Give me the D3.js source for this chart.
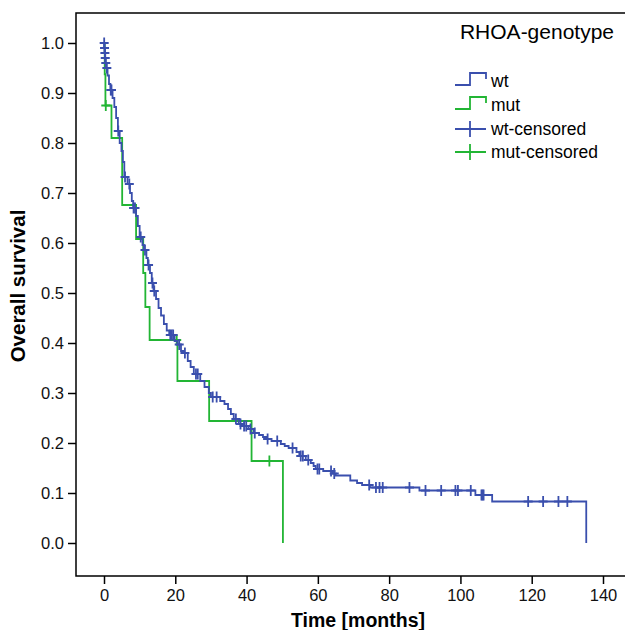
<!DOCTYPE html>
<html>
<head>
<meta charset="UTF-8">
<script src="https://cdn.jsdelivr.net/npm/d3@7"></script>
<style>
  body { margin: 0; background: #fff; }
  text { font-family: "Liberation Sans", Arial, sans-serif; }
</style>
</head>
<body>
<div id="chart"></div>
<script>
// survival steps: time of drop (months) and survival after the drop
const wtTimes = [0.1, 0.2, 0.3, 0.4, 0.6, 1.0, 1.4, 1.8, 2.4, 2.9, 3.4, 3.9, 4.4, 4.9, 5.3, 5.7, 6.6, 7.3, 7.8, 8.2,
  9.0, 9.5, 10.0, 10.8, 11.2, 11.9, 12.3, 12.9, 13.4, 13.9, 14.6, 15.3, 16.0, 16.8, 17.6, 18.3, 19.8, 20.6, 21.6, 22.2,
  23.5, 24.3, 25.2, 27.0, 28.2, 29.4, 30.0, 32.6, 33.8, 34.8, 35.6, 36.4, 37.8, 39.0, 40.5, 42.0, 43.5, 44.6, 45.5, 47.0,
  49.6, 50.7, 51.8, 54.0, 54.8, 56.6, 58.0, 58.8, 59.4, 61.5, 64.2, 65.0, 69.1, 71.0, 72.4, 74.6, 88.5, 104.2, 108.9, 135.3]
const wtSurv = [0.99, 0.98, 0.97, 0.96, 0.95, 0.935, 0.918, 0.906, 0.89, 0.872, 0.85, 0.824, 0.80, 0.784, 0.762, 0.732, 0.718, 0.70, 0.684, 0.67,
  0.654, 0.634, 0.612, 0.596, 0.586, 0.57, 0.556, 0.54, 0.52, 0.504, 0.488, 0.47, 0.455, 0.438, 0.425, 0.416, 0.404, 0.397, 0.384, 0.38,
  0.364, 0.352, 0.338, 0.324, 0.312, 0.30, 0.292, 0.284, 0.278, 0.268, 0.258, 0.248, 0.238, 0.234, 0.228, 0.22, 0.216, 0.212, 0.208, 0.204,
  0.198, 0.194, 0.19, 0.182, 0.174, 0.166, 0.16, 0.154, 0.148, 0.144, 0.139, 0.135, 0.125, 0.12, 0.116, 0.111, 0.105, 0.096, 0.083, 0.0]
const wtCensored = [0.05, 0.15, 0.25, 0.35, 0.5, 0.8, 1.9, 2.1, 4.0, 5.9, 7.1, 8.3, 8.7, 10.3, 11.5, 12.5, 13.6, 14.1, 18.6, 19.0,
  19.4, 21.1, 22.7, 25.8, 26.3, 30.5, 31.6, 37.0, 38.3, 39.3, 39.9, 41.1, 42.3, 45.9, 48.6, 52.9, 55.2, 55.8, 57.3, 59.9,
  60.4, 63.7, 64.6, 74.4, 76.3, 77.3, 78.2, 85.7, 90.2, 94.6, 98.6, 99.3, 102.9, 105.9, 106.2, 106.5, 119.0, 123.2, 127.5, 130.0]

const mutTimes = [0.2, 0.4, 2.1, 5.1, 9.0, 11.0, 11.6, 12.8, 20.6, 29.5, 41.4, 50.2]
const mutSurv = [0.9375, 0.875, 0.81, 0.676, 0.608, 0.54, 0.472, 0.406, 0.324, 0.244, 0.164, 0.0]
const mutCensored = [0.5, 20.4, 46.4]

const xTicks = [0, 20, 40, 60, 80, 100, 120, 140]
const yTicks = [0, 0.1, 0.2, 0.3, 0.4, 0.5, 0.6, 0.7, 0.8, 0.9, 1.0]
const legendLabels = ["wt", "mut", "wt-censored", "mut-censored"]

const blue = "#3a4fad"
const green = "#22b534"

const width = 625
const height = 630
const frame = { left: 76, right: 625, top: 13, bottom: 576 }

const svg = d3.select("#chart").append("svg")
  .attr("width", width)
  .attr("height", height)

const x = d3.scaleLinear().domain([0, 140]).range([104, 603])
const y = d3.scaleLinear().domain([0, 1]).range([543, 43])

// frame: top line, left and bottom axis lines
svg.append("path")
  .attr("d", `M${frame.right},${frame.top}H${frame.left}V${frame.bottom}H${frame.right}`)
  .attr("fill", "none")
  .attr("stroke", "#000")
  .attr("stroke-width", 1.5)

const yAxis = svg.append("g")
  .attr("transform", `translate(${frame.left},0)`)
  .call(d3.axisLeft(y).tickValues(yTicks).tickFormat(d3.format(".1f")).tickSize(8).tickPadding(4))
yAxis.select(".domain").remove()

const xAxis = svg.append("g")
  .attr("transform", `translate(0,${frame.bottom})`)
  .call(d3.axisBottom(x).tickValues(xTicks).tickSize(8).tickPadding(5))
xAxis.select(".domain").remove()

svg.selectAll(".tick line").attr("stroke", "#000").attr("stroke-width", 1.5)
svg.selectAll(".tick text").attr("font-size", 16.5).attr("fill", "#111")
  .style("font-family", "'Liberation Sans', Arial, sans-serif")

svg.append("text")
  .attr("x", 358).attr("y", 627)
  .attr("text-anchor", "middle")
  .attr("font-size", 19.5).attr("font-weight", "bold")
  .text("Time [months]")

svg.append("text")
  .attr("transform", "translate(25,286) rotate(-90)")
  .attr("text-anchor", "middle")
  .attr("font-size", 20.5).attr("font-weight", "bold")
  .text("Overall survival")

const survAt = (times, surv, t) => {
  let s = 1
  times.forEach((tt, i) => { if (tt <= t) s = surv[i] })
  return s
}

const line = d3.line()
  .x(d => x(d[0]))
  .y(d => y(d[1]))
  .curve(d3.curveStepAfter)

const series = [
  { times: wtTimes, surv: wtSurv, cens: wtCensored, color: blue },
  { times: mutTimes, surv: mutSurv, cens: mutCensored, color: green }
]

// draw mut first so wt lies over it like in the original
series.slice().reverse().forEach(s => {
  const pts = [[0, 1]].concat(s.times.map((t, i) => [t, s.surv[i]]))
  svg.append("path")
    .attr("d", line(pts))
    .attr("fill", "none")
    .attr("stroke", s.color)
    .attr("stroke-width", 1.8)

  svg.append("g").selectAll("path")
    .data(s.cens)
    .enter()
    .append("path")
    .attr("d", t => {
      const cx = x(t), cy = y(survAt(s.times, s.surv, t))
      return `M${cx - 4.5},${cy}H${cx + 4.5}M${cx},${cy - 5.5}V${cy + 5.5}`
    })
    .attr("stroke", s.color)
    .attr("stroke-width", 1.8)
})

// legend
const legend = svg.append("g")
legend.append("text")
  .attr("x", 537).attr("y", 39)
  .attr("text-anchor", "middle")
  .attr("font-size", 21)
  .text("RHOA-genotype")

const rowY = [81, 105, 129, 152]
legendLabels.forEach((lab, i) => {
  const cy = rowY[i]
  const col = i % 2 === 0 ? blue : green
  if (i < 2) {
    legend.append("path")
      .attr("d", `M455,${cy + 4}H470V${cy - 8}H486V${cy - 2}`)
      .attr("fill", "none").attr("stroke", col).attr("stroke-width", 1.8)
  } else {
    legend.append("path")
      .attr("d", `M455,${cy}H486M470,${cy - 8}V${cy + 8}`)
      .attr("stroke", col).attr("stroke-width", 1.8)
  }
  legend.append("text")
    .attr("x", 491).attr("y", cy + 6)
    .attr("font-size", 17.5)
    .text(lab)
})
</script>
</body>
</html>
